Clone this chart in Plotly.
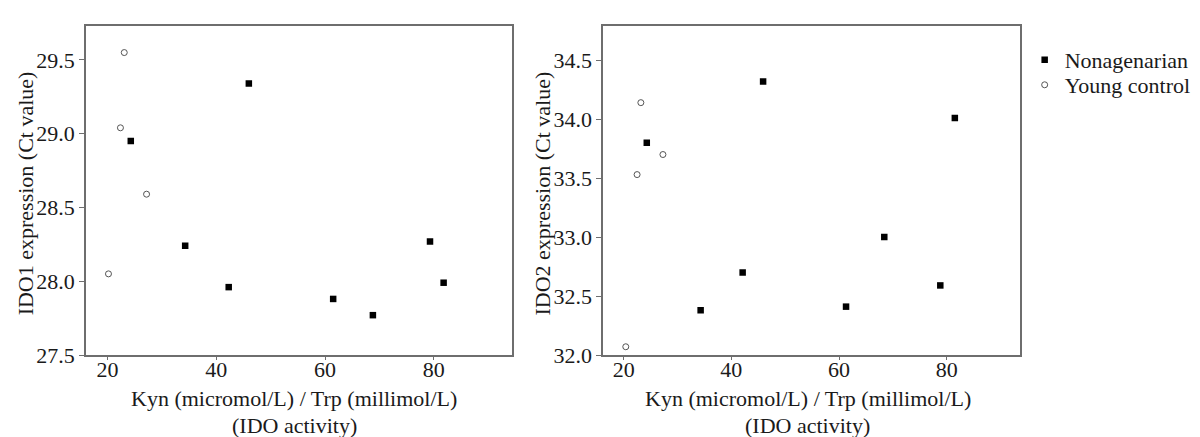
import plotly.graph_objects as go
from plotly.subplots import make_subplots

# IDO activity (Kyn/Trp) and Ct values
old_x1 = [24.3, 34.3, 42.3, 46.0, 61.5, 68.8, 79.3, 81.8]
old_y1 = [28.95, 28.24, 27.96, 29.34, 27.88, 27.77, 28.27, 27.99]
young_x1 = [20.2, 22.4, 23.1, 27.2]
young_y1 = [28.05, 29.04, 29.55, 28.59]

old_x2 = [24.3, 34.3, 42.1, 45.9, 61.3, 68.4, 78.8, 81.5]
old_y2 = [33.80, 32.38, 32.70, 34.32, 32.41, 33.00, 32.59, 34.01]
young_x2 = [20.4, 22.5, 23.2, 27.3]
young_y2 = [32.07, 33.53, 34.14, 33.70]

FONT = "Liberation Serif"
TEXT_COLOR = "#1a1a1a"
AXIS_COLOR = "#6e6e6e"

fig = make_subplots(rows=1, cols=2)

for col, ox, oy, yx, yy in [(1, old_x1, old_y1, young_x1, young_y1),
                            (2, old_x2, old_y2, young_x2, young_y2)]:
    fig.add_trace(go.Scatter(
        x=ox, y=oy, mode="markers", name="Nonagenarian",
        marker=dict(symbol="square", size=6.5, color="black"),
        showlegend=(col == 1), legend="legend"), row=1, col=col)
    fig.add_trace(go.Scatter(
        x=yx, y=yy, mode="markers", name="Young control",
        marker=dict(symbol="circle-open", size=6, color="#555555",
                    line=dict(width=1)),
        showlegend=(col == 1), legend="legend2"), row=1, col=col)

axis_common = dict(
    showline=True, linecolor=AXIS_COLOR, linewidth=1.5, mirror=True,
    showgrid=False, zeroline=False,
    tickfont=dict(family=FONT, size=22, color=TEXT_COLOR),
)

fig.update_xaxes(axis_common, tickvals=[20, 40, 60, 80],
                 ticks="outside", ticklen=3, tickcolor=AXIS_COLOR,
                 ticklabelstandoff=-9)
fig.update_yaxes(axis_common, dtick=0.5, tickformat=".1f",
                 ticks="outside", ticklen=5, tickcolor=AXIS_COLOR)

fig.update_layout(
    xaxis=dict(domain=[0, 0.4557], range=[16.07, 94.3]),
    xaxis2=dict(domain=[0.5537, 1], range=[16.2, 93.6]),
    yaxis=dict(range=[27.5, 29.73]),
    yaxis2=dict(range=[32.0, 34.79]),
)

line1 = "Kyn (micromol/L) / Trp (millimol/L)"
line2 = "(IDO activity)"
annots = [
    dict(x=0.223, y=-0.1307, text=line1),
    dict(x=0.223, y=-0.2128, text=line2),
    dict(x=0.7727, y=-0.1307, text=line1),
    dict(x=0.7727, y=-0.2128, text=line2),
    dict(x=-0.0647, y=0.49, text="IDO1 expression (Ct value)", textangle=-90),
    dict(x=0.489, y=0.49, text="IDO2 expression (Ct value)", textangle=-90),
]
for a in annots:
    fig.add_annotation(a, xref="paper", yref="paper", showarrow=False,
                       xanchor="center", yanchor="middle",
                       font=dict(family=FONT, size=22, color=TEXT_COLOR))

legend_style = dict(x=1.005, xanchor="left", yanchor="middle",
                    font=dict(family=FONT, size=22, color=TEXT_COLOR),
                    bgcolor="rgba(0,0,0,0)")

fig.update_layout(
    width=1200, height=437,
    margin=dict(l=78, r=163, t=18, b=90),
    font=dict(family=FONT, size=22, color=TEXT_COLOR),
    plot_bgcolor="white", paper_bgcolor="white",
    legend=dict(legend_style, y=0.8967),
    legend2=dict(legend_style, y=0.8207),
)

fig.write_html("out.html")
